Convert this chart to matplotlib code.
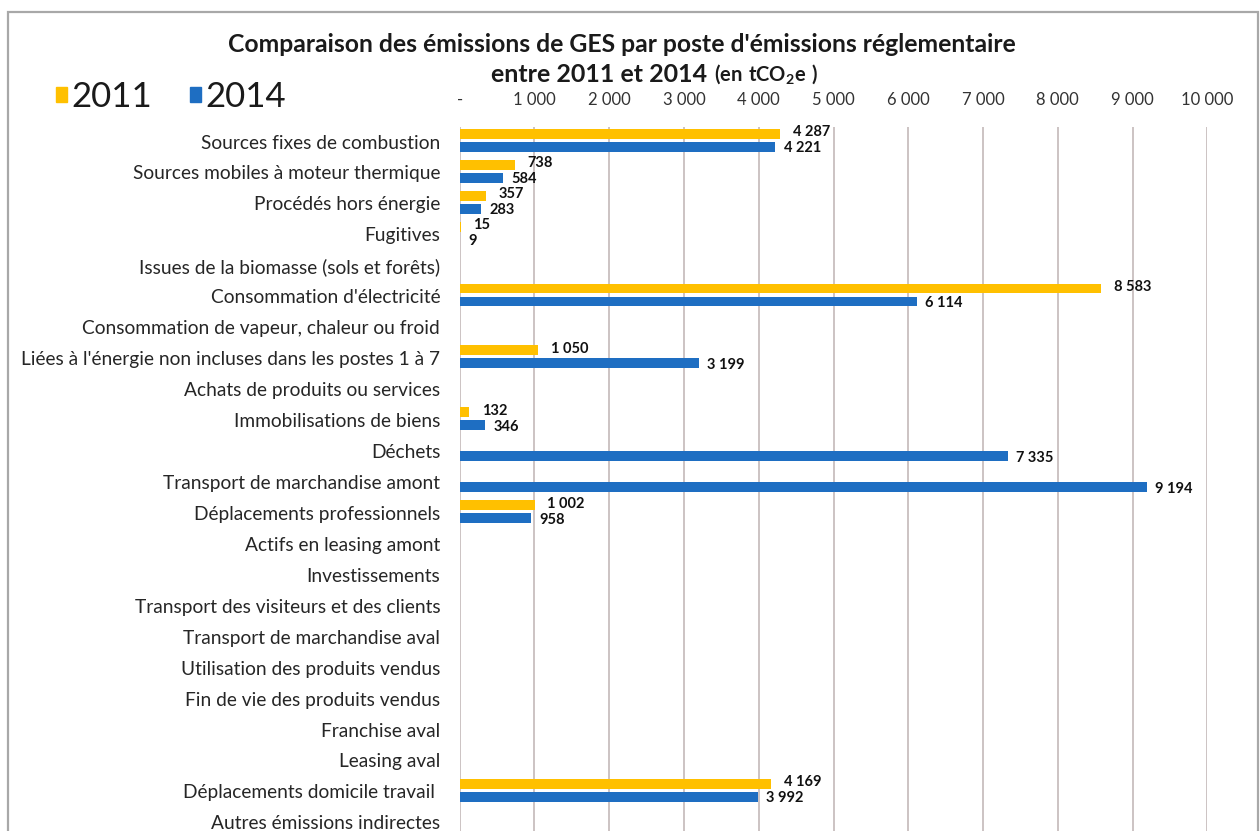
import numpy as np
import matplotlib.pyplot as plt
from matplotlib.patches import Rectangle

plt.rcParams['font.family'] = ['Lato', 'DejaVu Sans']
plt.rcParams['mathtext.fontset'] = 'custom'
plt.rcParams['mathtext.rm'] = 'Lato'
plt.rcParams['mathtext.bf'] = 'Lato:bold'

categories = [
    "Sources fixes de combustion",
    "Sources mobiles à moteur thermique",
    "Procédés hors énergie",
    "Fugitives",
    "Issues de la biomasse (sols et forêts)",
    "Consommation d'électricité",
    "Consommation de vapeur, chaleur ou froid",
    "Liées à l'énergie non incluses dans les postes 1 à 7",
    "Achats de produits ou services",
    "Immobilisations de biens",
    "Déchets",
    "Transport de marchandise amont",
    "Déplacements professionnels",
    "Actifs en leasing amont",
    "Investissements",
    "Transport des visiteurs et des clients",
    "Transport de marchandise aval",
    "Utilisation des produits vendus",
    "Fin de vie des produits vendus",
    "Franchise aval",
    "Leasing aval",
    "Déplacements domicile travail ",
    "Autres émissions indirectes",
]
# None = pas de donnée pour ce poste
em_2011 = [4287, 738, 357, 15, None, 8583, None, 1050, None, 132, None, None,
           1002, None, None, None, None, None, None, None, None, 4169, None]
em_2014 = [4221, 584, 283, 9, None, 6114, None, 3199, None, 346, 7335, 9194,
           958, None, None, None, None, None, None, None, None, 3992, None]
ticks = [0, 1000, 2000, 3000, 4000, 5000, 6000, 7000, 8000, 9000, 10000]

c2011 = '#FFC000'
c2014 = '#1E6EC2'
W, H = 1260, 831

fig = plt.figure(figsize=(12.6, 8.31), dpi=100)
ax = fig.add_axes([459.6 / W, 0, (1207.4 - 459.6) / W, 1 - 127 / H])

y = np.arange(len(categories))
v11 = np.array([np.nan if v is None else v for v in em_2011], dtype=float)
v14 = np.array([np.nan if v is None else v for v in em_2014], dtype=float)

h = 0.32
off11, off14 = -0.25, 0.17
ax.barh(y + off11, v11, height=h, color=c2011, zorder=3)
ax.barh(y + off14, v14, height=h, color=c2014, zorder=3)


def fmt(v):
    return f"{int(v):,}".replace(",", " ")


for yy, v in zip(y, v11):
    if not np.isnan(v):
        ax.annotate(fmt(v), (v, yy + off11), xytext=(9, 1), textcoords='offset points',
                    ha='left', va='center', fontsize=10.5, fontweight='bold', color='#111111')
for yy, v in zip(y, v14):
    if not np.isnan(v):
        ax.annotate(fmt(v), (v, yy + off14), xytext=(6, -1), textcoords='offset points',
                    ha='left', va='center', fontsize=10.5, fontweight='bold', color='#111111')

ax.set_xlim(0, 10000)
ax.set_ylim(22.28, -0.47)
ax.set_yticks(y)
ax.set_yticklabels(categories, fontsize=13.8, color='#262626')
ax.set_xticks(ticks)
ax.set_xticklabels(['-' if t == 0 else fmt(t) for t in ticks], fontsize=12, color='#333333')
ax.xaxis.tick_top()
ax.tick_params(axis='x', length=0, pad=14)
ax.tick_params(axis='y', length=0, pad=14)
for s in ax.spines.values():
    s.set_visible(False)
ax.grid(axis='x', color='#BFB3B3', linewidth=1.1, zorder=0)

# cadre gris autour du graphique
fig.patches.append(Rectangle((8 / W, -0.1), 1250 / W, 1.1 - 12 / H, transform=fig.transFigure,
                             fill=False, edgecolor='#A8A8A8', linewidth=1.6))

fig.text(622 / W, 1 - 45 / H, "Comparaison des émissions de GES par poste d'émissions réglementaire",
         ha='center', va='center', fontsize=17.8, fontweight='bold', color='#1A1A1A')
fig.text(707 / W, 1 - 74 / H, "entre 2011 et 2014", ha='right', va='center',
         fontsize=18, fontweight='bold', color='#1A1A1A')
fig.text(714 / W, 1 - 74 / H, r"$\mathbf{(en\ tCO_2e\ )}$", ha='left', va='center',
         fontsize=14.5, color='#1A1A1A')

handles = [Rectangle((0, 0), 1, 1, color=c2011), Rectangle((0, 0), 1, 1, color=c2014)]
fig.legend(handles, ['2011', '2014'], loc='center left', bbox_to_anchor=(56 / W, 1 - 97 / H),
           ncol=2, frameon=False, fontsize=25, handlelength=0.32, handleheight=0.32,
           handletextpad=0.12, columnspacing=1.1, borderpad=0, borderaxespad=0,
           labelcolor='#1A1A1A')

fig.savefig('out.png', dpi=100)
